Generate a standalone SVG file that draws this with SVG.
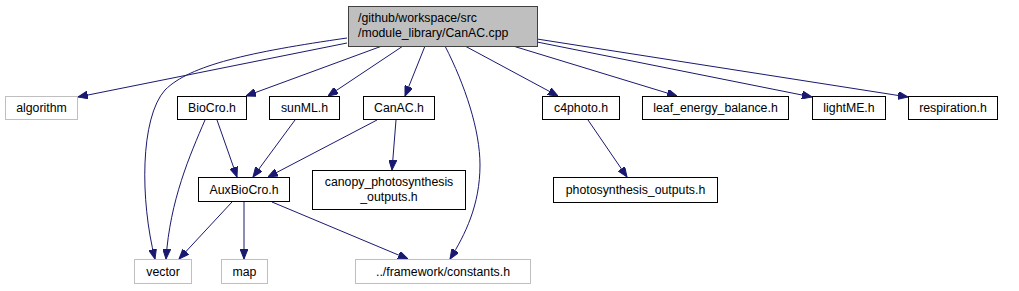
<svg xmlns="http://www.w3.org/2000/svg" width="1019" height="291" viewBox="0 0 1019 291">
<style>
text{font-family:"Liberation Sans",Arial,sans-serif;font-size:12.3px;fill:#000;text-anchor:middle}
.n rect{fill:#fff;stroke:#000;stroke-width:1}
.g rect{fill:#fff;stroke:#bfbfbf;stroke-width:1}
.root rect{fill:#bfbfbf;stroke:#404040;stroke-width:1}
.e path{fill:none;stroke:#191970;stroke-width:1;marker-end:url(#ah)}
</style>
<defs>
<marker id="ah" viewBox="0 0 10 8" refX="10" refY="4" markerWidth="10" markerHeight="8" markerUnits="userSpaceOnUse" orient="auto">
<polygon points="0,0 10,4 0,8" fill="#191970" stroke="#191970"/>
</marker>
</defs>
<rect width="1019" height="291" fill="#fff"/>
<g id="edges" class="e">
<path d="M347,43 L78,97"/>
<path d="M347,38 C250,52 190,65 165,90 C140,118 140,200 155,259"/>
<path d="M382,46 L246,96"/>
<path d="M403,46 L328,96"/>
<path d="M425,46 L405,96"/>
<path d="M445,46 C465,85 480,130 480,165 C480,205 465,235 450,259"/>
<path d="M465,46 L558,96"/>
<path d="M513,46 L677,96"/>
<path d="M537,42 L812,97"/>
<path d="M537,39 L908,97"/>
<path d="M205,120 C190,155 170,200 166,259"/>
<path d="M217,120 L237,177"/>
<path d="M295,120 L253,177"/>
<path d="M377,120 L268,177"/>
<path d="M396,120 L392,170"/>
<path d="M232,202 L179,259"/>
<path d="M244,202 L244,259"/>
<path d="M272,202 L408,259"/>
<path d="M588,120 L627,177"/>
</g>
<g id="root" class="root"><rect x="348.5" y="6.5" width="189" height="40"/>
<text x="358" y="22" style="text-anchor:start">/github/workspace/src</text>
<text x="358" y="37" style="text-anchor:start">/module_library/CanAC.cpp</text></g>
<g id="algorithm" class="g"><rect x="5.5" y="96.5" width="72" height="23"/><text x="41.5" y="112">algorithm</text></g>
<g id="biocro" class="n"><rect x="177.5" y="96.5" width="69" height="23"/><text x="212" y="112">BioCro.h</text></g>
<g id="sunml" class="n"><rect x="269.5" y="96.5" width="70" height="23"/><text x="304.5" y="112">sunML.h</text></g>
<g id="canac" class="n"><rect x="363.5" y="96.5" width="71" height="23"/><text x="399" y="112">CanAC.h</text></g>
<g id="c4photo" class="n"><rect x="542.5" y="96.5" width="77" height="23"/><text x="581" y="112">c4photo.h</text></g>
<g id="leaf" class="n"><rect x="642.5" y="96.5" width="146" height="23"/><text x="715.5" y="112">leaf_energy_balance.h</text></g>
<g id="lightme" class="n"><rect x="812.5" y="96.5" width="73" height="23"/><text x="849" y="112">lightME.h</text></g>
<g id="respiration" class="n"><rect x="908.5" y="96.5" width="89" height="23"/><text x="953" y="112">respiration.h</text></g>
<g id="auxbiocro" class="n"><rect x="198.5" y="177.5" width="91" height="24"/><text x="244" y="194">AuxBioCro.h</text></g>
<g id="canopy" class="n"><rect x="312.5" y="170.5" width="153" height="39"/><text x="389" y="186">canopy_photosynthesis</text><text x="389" y="201">_outputs.h</text></g>
<g id="photoout" class="n"><rect x="553.5" y="177.5" width="164" height="25"/><text x="635.5" y="194">photosynthesis_outputs.h</text></g>
<g id="vector" class="g"><rect x="134.5" y="259.5" width="57" height="24"/><text x="163" y="276">vector</text></g>
<g id="map" class="g"><rect x="221.5" y="259.5" width="46" height="24"/><text x="244.5" y="276">map</text></g>
<g id="constants" class="g"><rect x="355.5" y="259.5" width="175" height="24"/><text x="443" y="276">../framework/constants.h</text></g>
</svg>
